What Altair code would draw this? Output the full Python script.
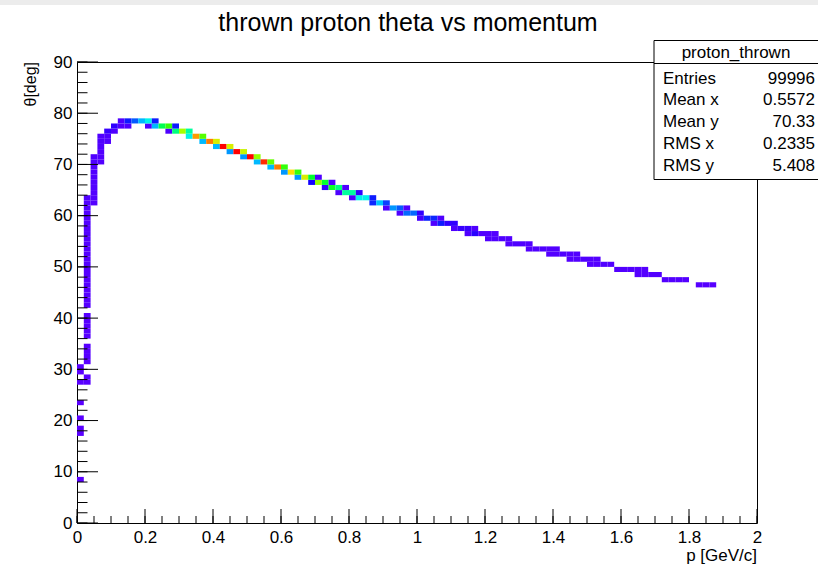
import altair as alt
import pandas as pd

# ---------------- data ----------------
P_BIN_WIDTH = 0.02      # GeV/c per x bin
THETA_BIN_WIDTH = 1.0   # deg per y bin

# x bin index, y bin index, entries
cell_p_bin = (
    [0] * 8
    + [1] * 33
    + [2] * 10
    + [3] * 6
    + [4, 4, 4, 5, 5, 6, 6, 7, 7, 8, 9, 10, 10, 11, 11, 12, 13, 13, 14, 14, 15, 16, 16, 17, 18, 18, 19,
       20, 20, 21, 22, 22, 23, 24, 24, 25, 26, 26, 27, 28, 28, 29, 30, 30, 31, 32, 32, 33, 34, 34, 35, 35,
       36, 36, 37, 37, 38, 38, 39, 39, 40, 40, 41, 41, 42, 43, 43, 44, 45, 45, 46, 47, 47, 48, 48, 49,
       50, 50, 51, 52, 52, 53, 53, 54, 55, 55, 56, 57, 57, 58, 58, 59, 60, 60, 61, 61, 62, 63, 63, 64,
       65, 66, 66, 67, 68, 69, 69, 70, 70, 71, 72, 72, 73, 73, 74, 75, 75, 76, 76, 77, 78, 79, 80, 81,
       82, 82, 83, 83, 84, 85, 86, 87, 88, 89, 91, 92, 93]
)
cell_theta_bin = (
    [8, 17, 18, 20, 23, 27, 29, 30]
    + [27, 28, 31, 32, 33, 34, 36, 37, 38, 39, 40,
       42, 43, 44, 45, 46, 47, 48, 49, 50, 51, 52, 53, 54, 55, 56, 57, 58, 59, 60, 61, 62, 63]
    + [62, 63, 64, 65, 66, 67, 68, 69, 70, 71]
    + [70, 71, 72, 73, 74, 75]
    + [74, 75, 76, 76, 77, 77, 78, 77, 78, 78, 78, 77, 78, 77, 78, 77, 76, 77, 76, 77, 76, 75, 76, 75, 74, 75, 74,
       73, 74, 73, 72, 73, 72, 71, 72, 71, 70, 71, 70, 69, 70, 69, 68, 69, 68, 67, 68, 67, 66, 67, 66, 67,
       65, 66, 65, 66, 64, 65, 64, 65, 63, 64, 63, 64, 63, 62, 63, 62, 61, 62, 61, 60, 61, 60, 61, 60,
       59, 60, 59, 58, 59, 58, 59, 58, 57, 58, 57, 56, 57, 56, 57, 56, 55, 56, 55, 56, 55, 54, 55, 54,
       54, 53, 54, 53, 53, 52, 53, 52, 53, 52, 51, 52, 51, 52, 51, 50, 51, 50, 51, 50, 50, 49, 49, 49,
       48, 49, 48, 49, 48, 48, 47, 47, 47, 47, 46, 46, 46]
)
cell_count = (
    [12, 15, 14, 13, 12, 16, 15, 18]
    + [20, 22, 18, 25, 24, 26, 22, 25, 27, 26, 28,
       30, 32, 31, 33, 34, 35, 33, 36, 38, 37, 39, 40, 41, 43, 44, 45, 47, 48, 50, 52, 54, 55]
    + [40, 42, 45, 47, 50, 52, 55, 57, 60, 58]
    + [45, 50, 55, 58, 60, 55]
    + [50, 58, 165, 60, 200, 55, 60, 60, 400, 560, 825, 60, 1055, 825, 400, 1550, 60, 1915, 1420, 400, 2280,
       1055, 1320, 2840, 825, 2045, 2935,
       825, 2475, 3300, 725, 2475, 3300, 725, 2410, 3300, 825, 2230, 3170, 825, 2080, 2935, 725, 1915,
       2640, 725, 1915, 2475, 330, 1650, 2230, 60,
       200, 1650, 1715, 60, 60, 1420, 1320, 60, 60, 1320, 1055, 200, 1055, 430, 400, 860, 60, 495, 725,
       60, 560, 595, 60, 595,
       100, 200, 430, 60, 430, 400, 60, 200, 60, 200, 165, 60, 165, 230, 60, 55, 50, 50, 55, 45, 60, 45,
       50, 60,
       58, 40, 50, 58, 60, 40, 45, 45, 42, 58, 40, 45, 42, 44, 56, 38, 42, 40, 40, 52, 50, 45, 48, 47,
       35, 38, 36, 35, 46, 44, 42, 44, 43, 41, 30, 32, 28]
)

x_tick_labels = [0, 0.2, 0.4, 0.6, 0.8, 1, 1.2, 1.4, 1.6, 1.8, 2]
y_tick_labels = [0, 10, 20, 30, 40, 50, 60, 70, 80, 90]
x_minor_ticks = [k * 0.05 for k in range(0, 41)]
y_minor_ticks = list(range(0, 91, 2))

TITLE = "thrown proton theta vs momentum"
X_TITLE = "p [GeV/c]"
Y_TITLE = "θ[deg]"
STATS_NAME = "proton_thrown"
stats_names = ["Entries", "Mean x", "Mean y", "RMS x", "RMS y"]
stats_values = ["99996", "0.5572", "70.33", "0.2335", "5.408"]

# ---------------- layout / style ----------------
W, H = 680, 461
FONT = "Liberation Sans"

# ROOT "pretty" palette (violet -> red)
color_domain = [0, 330, 660, 990, 1320, 1650, 1980, 2310, 2640, 2970, 3300]
color_range = ["#5d00ff", "#1200ff", "#0081ff", "#00f0ff", "#00ff9e", "#00ff2f",
               "#41ff00", "#b0ff00", "#ffdf00", "#ff6f00", "#ff0000"]

df = pd.DataFrame({"i": cell_p_bin, "j": cell_theta_bin, "n": cell_count})
df["p_lo"] = df["i"] * P_BIN_WIDTH
df["p_hi"] = df["p_lo"] + P_BIN_WIDTH
df["t_lo"] = df["j"] * THETA_BIN_WIDTH
df["t_hi"] = df["t_lo"] + THETA_BIN_WIDTH

xscale = alt.Scale(domain=[0, 2], nice=False, zero=False)
yscale = alt.Scale(domain=[0, 90], nice=False, zero=False)

x_axis = alt.Axis(values=x_tick_labels, format="~g", ticks=False, tickSize=0, domain=False,
                  grid=False, labelPadding=6, labelFont=FONT, labelFontSize=17,
                  labelColor="black", labelFlush=False, labelOverlap=False, title=None)
y_axis = alt.Axis(values=y_tick_labels, ticks=False, tickSize=0, domain=False,
                  grid=False, labelPadding=5, labelFont=FONT, labelFontSize=17,
                  labelColor="black", labelFlush=False, labelOverlap=False, title=None)

heat = alt.Chart(df).mark_rect(strokeWidth=0).encode(
    x=alt.X("p_lo:Q", scale=xscale, axis=x_axis, title=None),
    x2="p_hi:Q",
    y=alt.Y("t_lo:Q", scale=yscale, axis=y_axis, title=None),
    y2="t_hi:Q",
    color=alt.Color("n:Q", scale=alt.Scale(domain=color_domain, range=color_range, interpolate="rgb"),
                    legend=None),
)


def yticks(values, length):
    return alt.Chart(pd.DataFrame({"v": values})).mark_rule(color="black", strokeWidth=1).encode(
        y=alt.Y("v:Q", scale=yscale, axis=y_axis, title=None), x=alt.value(0), x2=alt.value(length))


def xticks(values, length):
    return alt.Chart(pd.DataFrame({"v": values})).mark_rule(color="black", strokeWidth=1).encode(
        x=alt.X("v:Q", scale=xscale, axis=x_axis, title=None), y=alt.value(H), y2=alt.value(H - length))


one = pd.DataFrame({"a": [0]})


def label(text, x, y, size, align="left", baseline="alphabetic", angle=0):
    return alt.Chart(one).mark_text(text=text, font=FONT, fontSize=size, color="black", align=align,
                                    baseline=baseline, angle=angle).encode(
        x=alt.value(x), y=alt.value(y))


layers = [
    # light band along the top edge of the captured window
    alt.Chart(one).mark_rect(fill="#ececec", strokeWidth=0).encode(
        x=alt.value(-77), x2=alt.value(741), y=alt.value(-62), y2=alt.value(-57)),
    heat,
    yticks(y_minor_ticks, 10.5),
    yticks(y_tick_labels, 21),
    xticks(x_minor_ticks, 7),
    xticks(x_tick_labels, 14),
    label(TITLE, 331, -31, 25, align="center"),
    label(Y_TITLE, -46, 0, 16, align="right", baseline="middle", angle=270),
    label(X_TITLE, W, 499, 17, align="right"),
    # stats box
    alt.Chart(one).mark_rect(fill="white", stroke="black", strokeWidth=1).encode(
        x=alt.value(577), x2=alt.value(760), y=alt.value(-21.5), y2=alt.value(117.5)),
    alt.Chart(one).mark_rule(color="black", strokeWidth=1).encode(
        x=alt.value(577), x2=alt.value(760), y=alt.value(1.5)),
    label(STATS_NAME, 659, -4, 17, align="center"),
]
for k, (nm, val) in enumerate(zip(stats_names, stats_values)):
    yy = 21.5 + k * 21.8
    layers.append(label(nm, 586, yy, 17, align="left"))
    layers.append(label(val, 738, yy, 17, align="right"))

chart = alt.layer(*layers).properties(
    width=W, height=H,
    autosize=alt.AutoSizeParams(type="none"),
    padding={"left": 77, "top": 62, "right": 61, "bottom": 42},
    background="white",
).configure_view(stroke="black", strokeWidth=1)

chart.save("out.html", embed_options={"renderer": "svg", "actions": False})
